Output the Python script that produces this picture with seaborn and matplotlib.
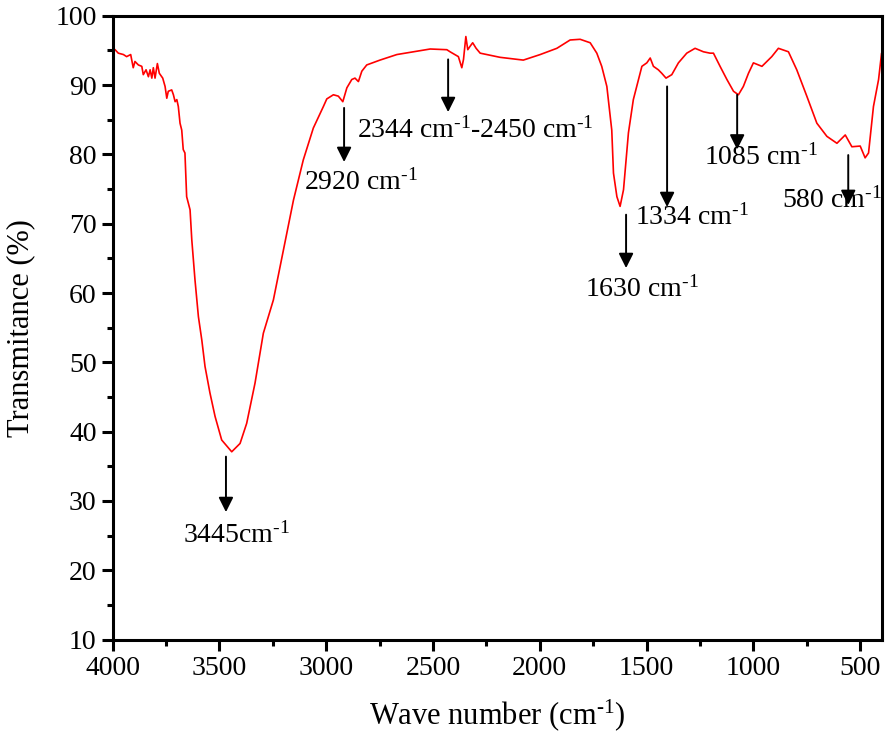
import numpy as np
import pandas as pd
import seaborn as sns
import matplotlib.pyplot as plt

# FTIR spectrum
wavenumber = [4000, 3988, 3973, 3949, 3934, 3915, 3903, 3895, 3879, 3863, 3856, 3843,
              3832, 3824, 3816, 3809, 3801, 3790, 3781, 3765, 3754, 3746, 3739, 3723,
              3715, 3707, 3699, 3692, 3684, 3676, 3669, 3661, 3653, 3637, 3629, 3614,
              3598, 3582, 3567, 3544, 3520, 3489, 3442, 3403, 3372, 3333, 3294, 3247,
              3200, 3153, 3107, 3060, 3013, 2997, 2966, 2943, 2922, 2903, 2880, 2865,
              2849, 2833, 2810, 2748, 2669, 2592, 2513, 2435, 2420, 2381, 2365, 2357,
              2346, 2337, 2326, 2314, 2298, 2279, 2186, 2077, 1998, 1920, 1858, 1811,
              1764, 1733, 1710, 1686, 1663, 1655, 1639, 1624, 1608, 1585, 1562, 1538,
              1522, 1499, 1483, 1468, 1445, 1429, 1409, 1382, 1351, 1312, 1273, 1234,
              1203, 1187, 1156, 1124, 1093, 1070, 1047, 1023, 1000, 960, 914, 883,
              836, 797, 750, 703, 656, 609, 570, 539, 500, 477, 461, 438, 414, 400]
transmittance = [95.3, 95.1, 94.6, 94.4, 94.1, 94.4, 92.5, 93.4, 92.9, 92.7, 91.5, 92.2,
                 91.2, 92.2, 91.0, 92.5, 91.0, 93.1, 91.7, 91.0, 89.8, 88.1, 89.1, 89.3,
                 88.6, 87.6, 87.9, 86.9, 84.5, 83.5, 80.7, 80.2, 73.9, 72.0, 67.7, 61.9,
                 56.6, 53.2, 49.4, 45.6, 42.2, 38.8, 37.1, 38.3, 41.2, 47.0, 54.2, 59.0,
                 66.2, 73.4, 79.2, 83.8, 86.9, 88.0, 88.6, 88.4, 87.6, 89.6, 90.8, 91.0,
                 90.5, 92.0, 92.9, 93.6, 94.4, 94.8, 95.2, 95.1, 94.8, 94.1, 92.5, 93.7,
                 97.0, 95.1, 95.6, 96.1, 95.3, 94.6, 94.0, 93.6, 94.4, 95.3, 96.5, 96.6,
                 96.1, 94.6, 92.7, 89.8, 83.5, 77.3, 73.9, 72.5, 74.9, 83.1, 87.9, 90.8,
                 92.7, 93.2, 93.9, 92.7, 92.2, 91.7, 91.0, 91.5, 93.2, 94.6, 95.3, 94.8,
                 94.6, 94.6, 92.7, 90.8, 89.1, 88.6, 89.8, 91.7, 93.2, 92.7, 94.1, 95.3,
                 94.8, 92.2, 88.4, 84.5, 82.6, 81.6, 82.8, 81.1, 81.2, 79.5, 80.2, 86.9,
                 90.8, 94.6]

# peak annotations: label, arrow x, arrow start y, arrow end y, text x, text y
sup = "$^{\\text{-1}}$"
peak_labels = ["3445cm" + sup, "2920 cm" + sup, "2344 cm" + sup + "-2450 cm" + sup,
               "1630 cm" + sup, "1334 cm" + sup, "1085 cm" + sup, "580 cm" + sup]
arrow_x = [3469, 2916, 2429, 1596, 1404, 1076, 556]
arrow_y0 = [36.4, 86.7, 93.7, 71.3, 89.8, 88.6, 79.9]
arrow_y1 = [28.4, 78.9, 86.1, 63.6, 72.4, 80.7, 72.7]
text_x = [3418, 2836, 2303, 1521, 1287, 964, 631]
text_y = [25.1, 75.9, 83.5, 60.5, 70.9, 79.5, 73.4]

df = pd.DataFrame({"Wavenumber": wavenumber, "Transmittance": transmittance})

sns.set_style("ticks")
plt.rcParams['font.family'] = ['Liberation Serif', 'DejaVu Serif']
plt.rcParams['mathtext.fontset'] = 'custom'
plt.rcParams['mathtext.rm'] = 'Liberation Serif'
plt.rcParams['mathtext.it'] = 'Liberation Serif'
for k in ['axes.edgecolor', 'xtick.color', 'ytick.color', 'text.color', 'axes.labelcolor']:
    plt.rcParams[k] = 'black'

fig = plt.figure(figsize=(8.86, 7.49), dpi=100)
ax = fig.add_axes([0.127, 0.146, 0.868, 0.833])

sns.lineplot(data=df, x="Wavenumber", y="Transmittance", sort=False,
             color="#ff0000", lw=1.2, ax=ax)

for lab, ax_, y0, y1, tx, ty in zip(peak_labels, arrow_x, arrow_y0, arrow_y1, text_x, text_y):
    ax.annotate("", xy=(ax_, y1), xytext=(ax_, y0),
                arrowprops=dict(arrowstyle="-|>", color="black", lw=1.4,
                                mutation_scale=22, shrinkA=0, shrinkB=0))
    ax.text(tx, ty, lab, fontsize=20, ha="center", va="center", color="black")

ax.set_xlim(4000, 400)
ax.set_ylim(10, 100)
ax.set_xticks([4000, 3500, 3000, 2500, 2000, 1500, 1000, 500])
ax.set_xticks(np.arange(3750, 400, -500), minor=True)
ax.set_yticks(np.arange(10, 101, 10))
ax.set_yticks(np.arange(15, 100, 10), minor=True)

ax.tick_params(axis="both", which="major", direction="out", length=8, width=2.2,
               labelsize=20, top=False, right=False)
ax.tick_params(axis="both", which="minor", direction="out", length=4.5, width=2.2,
               top=False, right=False)
for s in ax.spines.values():
    s.set_linewidth(2.2)
    s.set_visible(True)

ax.set_xlabel("Wave number (cm" + sup + ")", fontsize=22, labelpad=12)
ax.set_ylabel("Transmitance (%)", fontsize=22)
ax.yaxis.set_label_coords(-0.100, 0.5)

plt.savefig("out.png", dpi=100)
